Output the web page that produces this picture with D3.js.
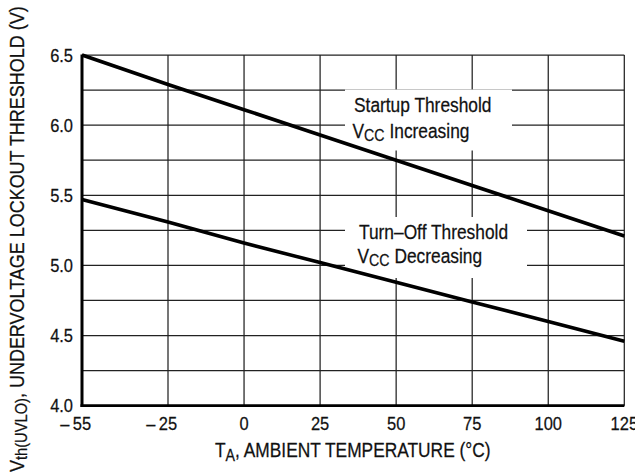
<!DOCTYPE html>
<html><head><meta charset="utf-8">
<script src="https://cdn.jsdelivr.net/npm/d3@7/dist/d3.min.js"></script>
<style>
body{margin:0;background:#fff}
text{font-family:"Liberation Sans",Arial,Helvetica,sans-serif;fill:#111;stroke:#111;stroke-width:0.25px}
</style></head>
<body><svg id="c" width="635" height="474"></svg>
<script>
// ---- data ----
const temps    = [-55, -25, 0, 25, 50, 75, 100, 125];
const startup  = [6.50, 6.29, 6.11, 5.93, 5.75, 5.57, 5.39, 5.21];
const turnoff  = [5.47, 5.31, 5.16, 5.02, 4.88, 4.74, 4.60, 4.46];
const xTicks   = [-55, -25, 0, 25, 50, 75, 100, 125];
const xTickLabels = ["– 55", "– 25", "0", "25", "50", "75", "100", "125"];
const yTicks   = [4.0, 4.5, 5.0, 5.5, 6.0, 6.5];
const yTickLabels = ["4.0", "4.5", "5.0", "5.5", "6.0", "6.5"];
const yGrid    = [4.0, 4.25, 4.5, 4.75, 5.0, 5.25, 5.5, 5.75, 6.0, 6.25, 6.5];

// ---- layout ----
const L = 82, R = 624.3, T = 55, B = 405.7;
const SX = 0.89; // condensed look
const svg = d3.select("#c");
const x = d3.scaleLinear().domain([-55, -25, 125]).range([L, 168, R]);
const y = d3.scaleLinear().domain([4, 6.5]).range([B, T]);

function g(px, py, rot) {
  return svg.append("g").attr("transform",
    `translate(${px},${py})` + (rot ? ` rotate(${rot})` : "") + ` scale(${SX},1)`);
}

// grid
const grid = svg.append("g").attr("stroke", "#222").attr("stroke-width", 1.25);
grid.selectAll("line.h").data(yGrid).join("line").attr("class","h")
  .attr("x1", L).attr("x2", R).attr("y1", d => y(d)).attr("y2", d => y(d));
grid.selectAll("line.v").data(xTicks).join("line").attr("class","v")
  .attr("x1", d => x(d)).attr("x2", d => x(d)).attr("y1", T).attr("y2", B);

// label boxes (white, hide grid)
svg.append("rect").attr("x", 345).attr("y", 89.5).attr("width", 167).attr("height", 61).attr("fill", "#fff");
svg.append("rect").attr("x", 345).attr("y", 217).attr("width", 182).attr("height", 61).attr("fill", "#fff");

// axes (thick left & bottom)
svg.append("line").attr("x1", L).attr("x2", L).attr("y1", T - 0.6).attr("y2", B + 1.4)
  .attr("stroke", "#000").attr("stroke-width", 3);
svg.append("line").attr("x1", L - 1.5).attr("x2", R).attr("y1", B).attr("y2", B)
  .attr("stroke", "#000").attr("stroke-width", 2.8);

// data lines
const line = d3.line().x(d => x(d[0])).y(d => y(d[1]));
[startup, turnoff].forEach(s => {
  svg.append("path").datum(temps.map((t, i) => [t, s[i]]))
    .attr("d", line).attr("fill", "none").attr("stroke", "#000")
    .attr("stroke-width", 3.6).attr("stroke-linecap", "butt");
});

// y tick labels
yTicks.forEach((d, i) => {
  g(73, y(d)).append("text").attr("dy", "0.36em").attr("text-anchor", "end")
    .attr("font-size", 18.5).text(yTickLabels[i]);
});

// x tick labels (number centred on gridline, dash hangs left)
xTicks.forEach((t, i) => {
  const lab = xTickLabels[i];
  const neg = lab.startsWith("–");
  const num = neg ? lab.replace("– ", "") : lab;
  const gg = g(x(t), 430);
  const tx = gg.append("text").attr("text-anchor", "middle").attr("font-size", 18.5).text(num);
  if (neg) {
    const w = tx.node().getComputedTextLength();
    gg.append("text").attr("x", -w / 2 - 3.4 / SX)
      .attr("text-anchor", "end").attr("font-size", 18.5).text("–");
  }
});

// annotations
function twoLine(x0, y1, y2, first, word) {
  g(x0, y1).append("text").attr("font-size", 19.5).text(first);
  const t = g(x0 - 1.5, y2).append("text").attr("font-size", 19.5);
  t.append("tspan").text("V");
  t.append("tspan").attr("font-size", 16).attr("dy", 2.5).text("CC");
  t.append("tspan").attr("dy", -2.5).text(" " + word);
}
twoLine(354, 112, 138, "Startup Threshold", "Increasing");
twoLine(359, 239, 263, "Turn–Off Threshold", "Decreasing");

// x title
const xt = g(215, 457).append("text").attr("font-size", 19.5);
xt.append("tspan").text("T");
xt.append("tspan").attr("font-size", 16).attr("dy", 4).text("A");
xt.append("tspan").attr("dy", -4).text(", AMBIENT TEMPERATURE (°C)");

// y title
const yt = g(23.5, 472, -90).append("text").attr("font-size", 20.2);
yt.append("tspan").text("V");
yt.append("tspan").attr("font-size", 16.5).attr("dy", 3.5).text("th(UVLO)");
yt.append("tspan").attr("dy", -3.5).text(", UNDERVOLTAGE LOCKOUT THRESHOLD (V)");
</script></body></html>
